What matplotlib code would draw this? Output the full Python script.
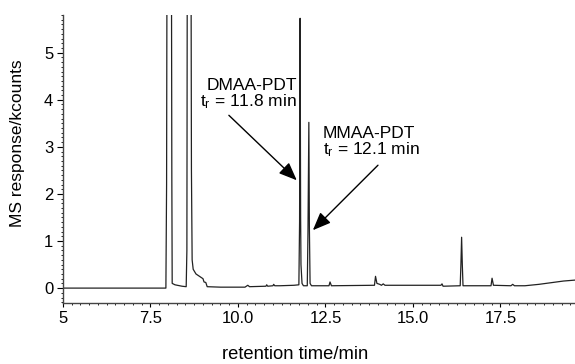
import matplotlib
matplotlib.use('Agg')
import matplotlib.pyplot as plt
from matplotlib.ticker import FixedLocator, FixedFormatter, MultipleLocator

plt.rcParams['font.family'] = ['Liberation Sans', 'DejaVu Sans']
plt.rcParams['mathtext.fontset'] = 'custom'
plt.rcParams['mathtext.rm'] = 'Liberation Sans'

# chromatogram trace (time in min, response in kcounts)
time = [5.0, 7.94, 7.96, 7.97, 8.10, 8.11, 8.12, 8.2, 8.4, 8.52,
        8.54, 8.55, 8.66, 8.67, 8.69, 8.72, 8.8, 8.9, 9.0, 9.03,
        9.08, 9.12, 9.5, 10.2, 10.28, 10.33, 10.8, 10.82, 10.85, 11.0,
        11.02, 11.05, 11.2, 11.6, 11.74, 11.76, 11.775, 11.79, 11.80, 11.83,
        11.87, 11.98, 12.0, 12.025, 12.04, 12.06, 12.1, 12.6, 12.63, 12.67,
        13.9, 13.93, 13.97, 14.05, 14.1, 14.15, 14.2, 15.8, 15.83, 15.86,
        16.35, 16.37, 16.39, 16.41, 16.43, 17.23, 17.26, 17.3, 17.8, 17.85,
        17.9, 18.2, 18.6, 19.0, 19.3, 19.63]
response = [0.0, 0.0, 2.2, 6.5, 6.5, 2.3, 0.1, 0.07, 0.04, 0.03,
            0.8, 6.5, 6.5, 2.5, 0.6, 0.4, 0.3, 0.25, 0.2, 0.13,
            0.12, 0.03, 0.02, 0.02, 0.06, 0.03, 0.04, 0.07, 0.04, 0.05,
            0.08, 0.05, 0.05, 0.06, 0.07, 1.4, 5.73, 1.5, 0.5, 0.1,
            0.05, 0.05, 1.2, 3.52, 1.3, 0.1, 0.05, 0.05, 0.13, 0.05,
            0.06, 0.25, 0.1, 0.08, 0.06, 0.09, 0.06, 0.06, 0.09, 0.04,
            0.05, 0.5, 1.08, 0.5, 0.05, 0.05, 0.21, 0.06, 0.05, 0.08,
            0.05, 0.05, 0.08, 0.12, 0.15, 0.17]

xticks = [5, 7.5, 10, 12.5, 15, 17.5]
xticklabels = ['5', '7.5', '10.0', '12.5', '15.0', '17.5']
yticks = [0, 1, 2, 3, 4, 5]

fig = plt.figure(figsize=(5.75, 3.64), dpi=100)
ax = fig.add_axes([63/575, 1-302.7/364, 1-63/575, (302.7-15)/364])
ax.plot(time, response, color='#222222', lw=0.9)
ax.set_xlim(5, 19.63)
ax.set_ylim(-0.31, 5.8)

ax.spines['top'].set_visible(False)
ax.spines['right'].set_visible(False)
for s in ['left', 'bottom']:
    ax.spines[s].set_color('#444444')
    ax.spines[s].set_linewidth(1.0)

ax.xaxis.set_major_locator(FixedLocator(xticks))
ax.xaxis.set_major_formatter(FixedFormatter(xticklabels))
ax.xaxis.set_minor_locator(MultipleLocator(0.25))
ax.yaxis.set_major_locator(FixedLocator(yticks))
ax.yaxis.set_minor_locator(MultipleLocator(0.1))
ax.tick_params(axis='x', which='major', length=3, pad=3, labelsize=12)
ax.tick_params(axis='x', which='minor', length=1.5)
ax.tick_params(axis='y', which='major', length=4, pad=3, labelsize=12)
ax.tick_params(axis='y', which='minor', length=1.5)

ax.set_xlabel('retention time/min', fontsize=13.2)
ax.set_ylabel('MS response/kcounts', fontsize=12.5)
ax.xaxis.set_label_coords(0.453, -0.15)
ax.yaxis.set_label_coords(-0.074, 0.555)

arrow = dict(arrowstyle='-|>,head_length=1.1,head_width=0.45', color='black', lw=1.0,
             shrinkA=0, shrinkB=0)
ax.annotate('', xy=(11.68, 2.29), xytext=(9.74, 3.67), arrowprops=arrow)
ax.annotate('', xy=(12.14, 1.23), xytext=(14.0, 2.61), arrowprops=arrow)

ax.text(11.69, 4.31, 'DMAA-PDT', ha='right', va='center', fontsize=12.5)
ax.text(11.69, 3.95, r'$\mathregular{t_r}$ = 11.8 min', ha='right', va='center', fontsize=12.5)
ax.text(12.43, 3.29, 'MMAA-PDT', ha='left', va='center', fontsize=12.5)
ax.text(12.43, 2.93, r'$\mathregular{t_r}$ = 12.1 min', ha='left', va='center', fontsize=12.5)

fig.savefig('out.png', dpi=100)
